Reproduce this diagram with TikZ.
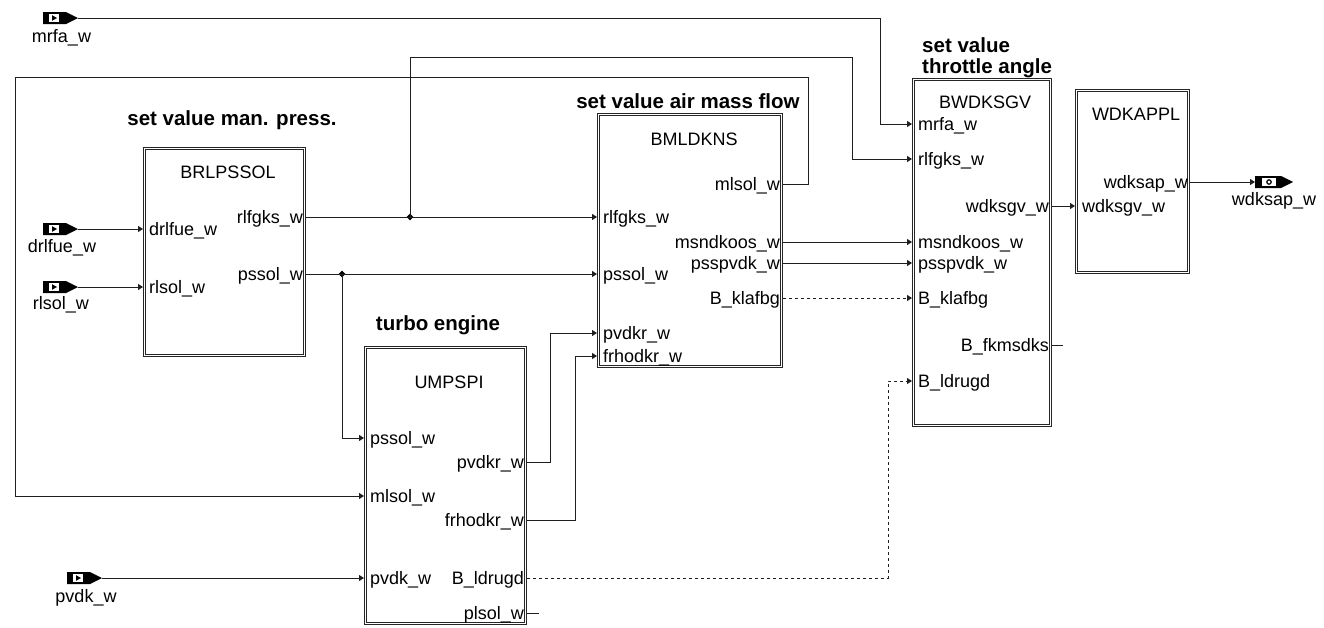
\documentclass[tikz,border=0pt]{standalone}
\usepackage{fontspec}
\setmainfont{Liberation Sans}
\usetikzlibrary{arrows.meta,shapes.geometric}
\newcommand\myinport[3]{%
  \fill (#2,#3-6) -- (#2+23,#3-6) -- (#2+35,#3) -- (#2+23,#3+6) -- (#2,#3+6) -- cycle;
  \fill[white] (#2+6,#3-4) rectangle (#2+16,#3+4);
  \fill (#2+9,#3-2.8) -- (#2+14,#3) -- (#2+9,#3+2.8) -- cycle;
  \coordinate (#1) at (#2+35,#3);}
\newcommand\myoutport[3]{%
  \fill (#2,#3-6) -- (#2+26,#3-6) -- (#2+38,#3) -- (#2+26,#3+6) -- (#2,#3+6) -- cycle;
  \fill[white] (#2+7,#3-4) rectangle (#2+21,#3+4);
  \draw[line width=1.2pt] (#2+14,#3) circle (2.2);
  \coordinate (#1) at (#2,#3);}
\begin{document}
\begin{tikzpicture}[x=1pt,y=-1pt,
  wire/.style={line width=1pt, draw=black!88},
  arr/.style={wire, -{Triangle[length=5pt,width=6pt]}},
  dashwire/.style={wire, dash pattern=on 3pt off 3pt},
  dasharr/.style={arr, dash pattern=on 3pt off 3pt},
  blk/.style={draw=black!85, line width=0.9pt, double=white, double distance=1.5pt, inner sep=0pt},
  lbl/.style={font=\fontsize{18}{20}\selectfont, inner sep=0pt},
  ttl/.style={font=\bfseries\fontsize{20.5}{22}\selectfont, inner sep=0pt},
  jn/.style={diamond, fill=black, inner sep=0pt, minimum size=7pt}]
\useasboundingbox (0,0) rectangle (1324,627);

% ---------- blocks ----------
\node[blk, minimum width=160, minimum height=207] (brl) at (224.5,252) {};
\node[blk, minimum width=183, minimum height=252] (bml) at (690,240.5) {};
\node[blk, minimum width=160, minimum height=276] (ump) at (445.5,485.5) {};
\node[blk, minimum width=137, minimum height=346] (bwd) at (982,252.5) {};
\node[blk, minimum width=112, minimum height=182] (wdk) at (1132.5,181.5) {};

% ---------- block names ----------
\node[lbl, anchor=base] (brl-name) at (228,178) {BRLPSSOL};
\node[lbl, anchor=base] (bml-name) at (694,145) {BMLDKNS};
\node[lbl, anchor=base] (ump-name) at (449,388) {UMPSPI};
\node[lbl, anchor=base] (bwd-name) at (985,108) {BWDKSGV};
\node[lbl, anchor=base] (wdk-name) at (1136,120) {WDKAPPL};

% ---------- titles ----------
\node[ttl, anchor=base] (t1) at (232,125) {set value man. press.};
\node[ttl, anchor=base] (t2) at (688,108) {set value air mass flow};
\node[ttl, anchor=base] (t3) at (438,330) {turbo engine};
\node[ttl, anchor=base west] (t4a) at (922,52) {set value};
\node[ttl, anchor=base west] (t4b) at (922,73) {throttle angle};

% ---------- port coordinates ----------
\coordinate (brl-i1) at (143,229);
\coordinate (brl-i2) at (143,287);
\coordinate (brl-o1) at (306,217);
\coordinate (brl-o2) at (306,274);
\coordinate (bml-i1) at (597,217);
\coordinate (bml-i2) at (597,274);
\coordinate (bml-i3) at (597,333);
\coordinate (bml-i4) at (597,356);
\coordinate (bml-o1) at (783,184);
\coordinate (bml-o2) at (783,242);
\coordinate (bml-o3) at (783,263);
\coordinate (bml-o4) at (783,298);
\coordinate (ump-i1) at (364,438);
\coordinate (ump-i2) at (364,496);
\coordinate (ump-i3) at (364,578);
\coordinate (ump-o1) at (527,462);
\coordinate (ump-o2) at (527,520);
\coordinate (ump-o3) at (527,578);
\coordinate (ump-o4) at (527,613);
\coordinate (bwd-i1) at (912,124);
\coordinate (bwd-i2) at (912,159);
\coordinate (bwd-i3) at (912,242);
\coordinate (bwd-i4) at (912,263);
\coordinate (bwd-i5) at (912,298);
\coordinate (bwd-i6) at (912,381);
\coordinate (bwd-o1) at (1052,206);
\coordinate (bwd-o2) at (1052,345);
\coordinate (wdk-i1) at (1075,206);
\coordinate (wdk-o1) at (1190,182);

% ---------- port labels ----------
\node[lbl, anchor=base west] (l1) at (149,235.5) {drlfue\_w};
\node[lbl, anchor=base west] (l2) at (149,293.5) {rlsol\_w};
\node[lbl, anchor=base east] (l3) at (303,223.5) {rlfgks\_w};
\node[lbl, anchor=base east] (l4) at (303,280.5) {pssol\_w};

\node[lbl, anchor=base west] (l5) at (603,223.5) {rlfgks\_w};
\node[lbl, anchor=base west] (l6) at (603,280.5) {pssol\_w};
\node[lbl, anchor=base west] (l7) at (603,339.5) {pvdkr\_w};
\node[lbl, anchor=base west] (l8) at (603,362.5) {frhodkr\_w};
\node[lbl, anchor=base east] (l9) at (780,190.5) {mlsol\_w};
\node[lbl, anchor=base east] (l10) at (780,248.5) {msndkoos\_w};
\node[lbl, anchor=base east] (l11) at (780,269.5) {psspvdk\_w};
\node[lbl, anchor=base east] (l12) at (780,304.5) {B\_klafbg};

\node[lbl, anchor=base west] (l13) at (370,444.5) {pssol\_w};
\node[lbl, anchor=base west] (l14) at (370,502.5) {mlsol\_w};
\node[lbl, anchor=base west] (l15) at (370,584.5) {pvdk\_w};
\node[lbl, anchor=base east] (l16) at (524,468.5) {pvdkr\_w};
\node[lbl, anchor=base east] (l17) at (524,526.5) {frhodkr\_w};
\node[lbl, anchor=base east] (l18) at (524,584.5) {B\_ldrugd};
\node[lbl, anchor=base east] (l19) at (524,619) {plsol\_w};

\node[lbl, anchor=base west] (l20) at (918,130.5) {mrfa\_w};
\node[lbl, anchor=base west] (l21) at (918,165.5) {rlfgks\_w};
\node[lbl, anchor=base west] (l22) at (918,248.5) {msndkoos\_w};
\node[lbl, anchor=base west] (l23) at (918,269.5) {psspvdk\_w};
\node[lbl, anchor=base west] (l24) at (918,304.5) {B\_klafbg};
\node[lbl, anchor=base west] (l25) at (918,387.5) {B\_ldrugd};
\node[lbl, anchor=base east] (l26) at (1049,212.5) {wdksgv\_w};
\node[lbl, anchor=base east] (l27) at (1049,351.5) {B\_fkmsdks};

\node[lbl, anchor=base west] (l28) at (1082,212.5) {wdksgv\_w};
\node[lbl, anchor=base east] (l29) at (1188,188.5) {wdksap\_w};

% ---------- external ports ----------
\myinport{p-mrfa}{43}{18}
\myinport{p-drlfue}{43}{229}
\myinport{p-rlsol}{43}{287}
\myinport{p-pvdk}{67}{578}
\myoutport{p-wdksap}{1255}{182}
\node[lbl, anchor=base] (e1) at (61.5,42) {mrfa\_w};
\node[lbl, anchor=base] (e2) at (62,252) {drlfue\_w};
\node[lbl, anchor=base] (e3) at (61,309) {rlsol\_w};
\node[lbl, anchor=base] (e4) at (86,602) {pvdk\_w};
\node[lbl, anchor=base] (e5) at (1274,205) {wdksap\_w};

% ---------- junctions & bends ----------
\node[jn] (j1) at (410,217) {};
\node[jn] (j2) at (342,274) {};
\coordinate (c-mrfa) at (880,18);
\coordinate (c-rl1) at (410,57);
\coordinate (c-rl2) at (852,159);
\coordinate (c-ml1) at (808,77);
\coordinate (c-ml2) at (15,77);
\coordinate (c-pv) at (550,462);
\coordinate (c-fr) at (575,520);
\coordinate (c-ld) at (888,578);
\coordinate (s1) at (539,613);
\coordinate (s2) at (1063,345);

% ---------- connectors ----------
\draw[arr] (p-mrfa) -- (c-mrfa) |- (bwd-i1);
\draw[arr] (p-drlfue) -- (brl-i1);
\draw[arr] (p-rlsol) -- (brl-i2);
\draw[arr] (p-pvdk) -- (ump-i3);
\draw[arr] (brl-o1) -- (bml-i1);
\draw[arr] (j1.center) -- (c-rl1) -| (c-rl2) -- (bwd-i2);
\draw[arr] (brl-o2) -- (bml-i2);
\draw[arr] (j2.center) |- (ump-i1);
\draw[arr] (bml-o1) -| (c-ml1) -- (c-ml2) |- (ump-i2);
\draw[arr] (ump-o1) -- (c-pv) |- (bml-i3);
\draw[arr] (ump-o2) -- (c-fr) |- (bml-i4);
\draw[arr] (bml-o2) -- (bwd-i3);
\draw[arr] (bml-o3) -- (bwd-i4);
\draw[dasharr] (bml-o4) -- (bwd-i5);
\draw[dasharr] (ump-o3) -- (c-ld) |- (bwd-i6);
\draw[wire] (ump-o4) -- (s1);
\draw[wire] (bwd-o2) -- (s2);
\draw[arr] (bwd-o1) -- (wdk-i1);
\draw[arr] (wdk-o1) -- (p-wdksap);
\end{tikzpicture}
\end{document}
